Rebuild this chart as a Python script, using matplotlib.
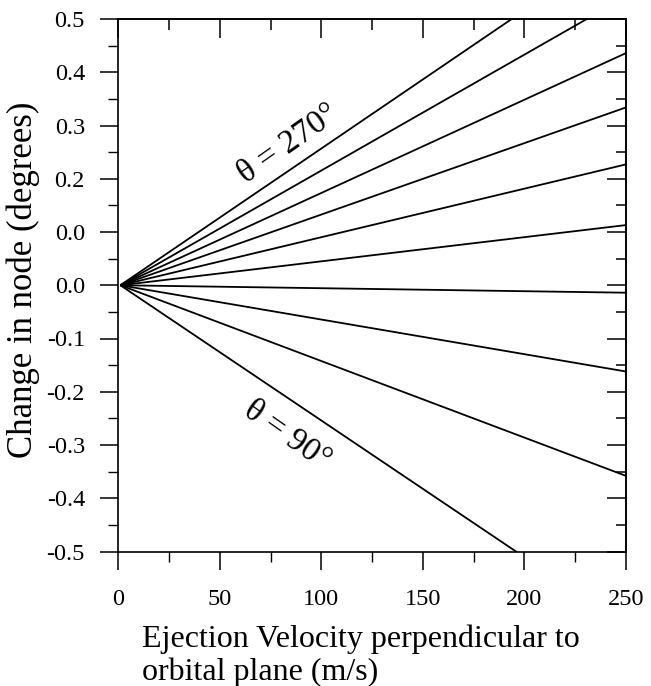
import matplotlib
matplotlib.use("Agg")
import matplotlib.pyplot as plt
from matplotlib.ticker import MultipleLocator, FixedLocator, FixedFormatter

plt.rcParams["font.family"] = ["Liberation Serif", "DejaVu Serif"]

# ejection velocity range of each line (m/s)
v_start = 1.0
v_end = 250.0
# change in node at v_end for each ejection angle, top line to bottom line
node_end = [0.646, 0.542, 0.436, 0.334, 0.227, 0.113, -0.014, -0.162, -0.358, -0.639]

ytick_vals = [-0.5, -0.4, -0.3, -0.2, -0.1, 0.0, 0.1, 0.2, 0.3, 0.4, 0.5]
ytick_labels = ["-0.5", "-0.4", "-0.3", "-0.2", "-0.1", "0.0", "0.0", "0.2", "0.3", "0.4", "0.5"]
xtick_vals = [0, 50, 100, 150, 200, 250]

fig = plt.figure(figsize=(6.51, 6.86), dpi=100)
ax = fig.add_axes([118.3/651, 1-551.5/686, (626-118.3)/651, (551.5-19)/686])

for yend in node_end:
    ax.plot([v_start, v_end], [0.0, yend], color="black", lw=1.3, solid_capstyle="butt")

ax.set_xlim(0, 250)
ax.set_ylim(-0.5, 0.5)

ax.xaxis.set_major_locator(FixedLocator(xtick_vals))
ax.xaxis.set_minor_locator(MultipleLocator(25))
ax.yaxis.set_major_locator(FixedLocator(ytick_vals))
ax.yaxis.set_major_formatter(FixedFormatter(ytick_labels))
ax.yaxis.set_minor_locator(MultipleLocator(0.05))

for sp in ax.spines.values():
    sp.set_linewidth(1.2)

# left / bottom ticks point outward
ax.tick_params(which="major", direction="out", length=13, width=1.1, labelsize=17.5)
ax.tick_params(which="minor", direction="out", length=7, width=1.0)
ax.tick_params(axis="x", which="major", pad=14)
ax.tick_params(axis="y", which="major", pad=11)

# top / right ticks point inward
top = ax.secondary_xaxis("top")
top.xaxis.set_major_locator(FixedLocator(xtick_vals))
top.xaxis.set_minor_locator(MultipleLocator(25))
top.tick_params(which="both", direction="in", labeltop=False, width=1.1)
top.tick_params(which="major", length=14)
top.tick_params(which="minor", length=8)
right = ax.secondary_yaxis("right")
right.yaxis.set_major_locator(FixedLocator(ytick_vals))
right.yaxis.set_minor_locator(MultipleLocator(0.05))
right.tick_params(which="both", direction="in", labelright=False, width=1.1)
right.tick_params(which="major", length=14)
right.tick_params(which="minor", length=7)
for s in (top, right):
    for sp in s.spines.values():
        sp.set_linewidth(1.2)

ax.text(83.5, 0.265, "θ = 270°", fontsize=24, rotation=35,
        ha="center", va="center", rotation_mode="anchor")
ax.text(83, -0.282, "θ = 90°", fontsize=24, rotation=-35,
        ha="center", va="center", rotation_mode="anchor")

fig.text(142/651, 1-624/686, "Ejection Velocity perpendicular to\norbital plane (m/s)",
         fontsize=23, ha="left", va="top", linespacing=1.18)
fig.text(23/651, 1-280/686, "Change in node (degrees)", fontsize=25,
         rotation=90, ha="center", va="center")

fig.savefig("out.png", dpi=100)
